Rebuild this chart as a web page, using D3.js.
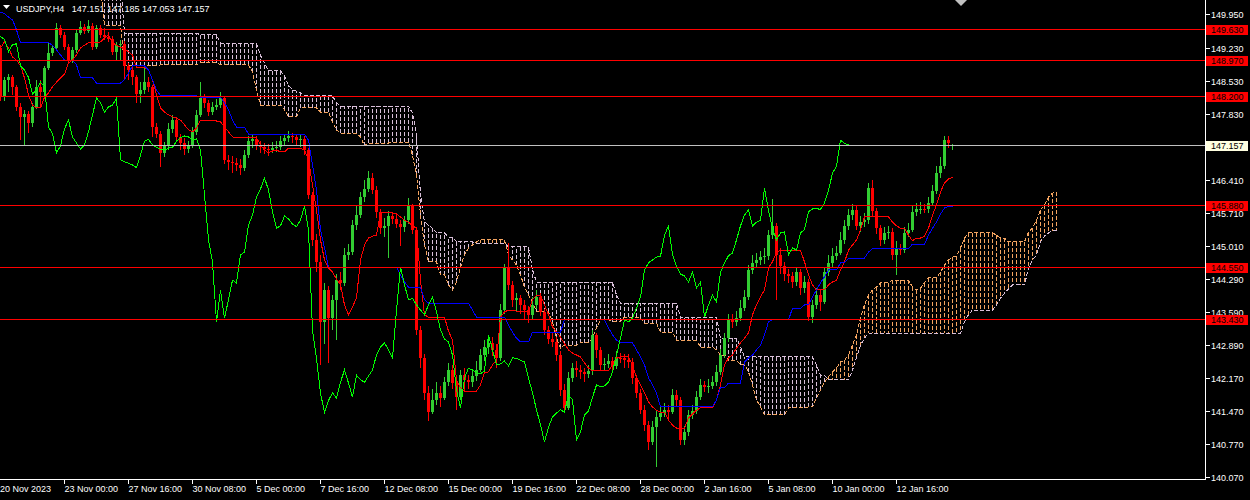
<!DOCTYPE html>
<html><head><meta charset="utf-8">
<script src="https://cdn.jsdelivr.net/npm/d3@7"></script>
<style>html,body{margin:0;padding:0;background:#000;overflow:hidden}svg{display:block}</style>
</head><body><svg id="c" width="1250" height="500"></svg>
<script>
// ---------------- DATA (USDJPY H4) ----------------
const symbolTitle = "USDJPY,H4";
const openP = [
149.23,148.18,148.55,148.60,148.40,147.97,147.76,147.82,147.63,147.97,
148.40,148.29,148.80,149.12,149.23,149.66,149.51,149.25,148.97,149.19,
149.55,149.68,149.59,149.70,149.25,149.66,149.51,149.47,149.42,149.15,
149.30,149.32,148.85,148.76,148.60,148.25,148.33,148.50,148.40,147.54,
147.40,146.99,147.14,147.50,147.69,147.33,147.20,147.07,147.16,147.44,
147.80,148.16,148.06,147.86,147.97,148.01,148.16,146.84,146.80,146.77,
146.73,146.67,146.94,147.24,147.28,147.16,147.11,147.07,147.05,147.09,
147.11,147.24,147.31,147.35,147.33,147.26,147.29,147.05,146.09,145.13,
144.66,143.38,144.06,143.46,143.85,144.27,144.21,144.81,144.87,145.45,
145.66,146.05,146.22,146.45,146.20,145.73,145.38,145.43,145.64,145.58,
145.47,145.41,145.55,145.85,145.34,143.20,142.60,141.85,141.45,141.70,
141.86,141.75,142.09,142.35,142.07,141.77,142.24,142.14,142.09,142.22,
142.35,142.67,142.84,142.93,142.78,142.61,143.63,144.55,144.17,143.85,
143.88,143.74,143.63,143.53,143.74,143.91,143.59,143.21,143.01,142.95,
142.67,141.92,141.54,142.18,142.39,142.35,142.30,142.27,142.33,143.10,
142.78,142.46,142.48,142.54,142.44,142.61,142.60,142.56,142.52,142.18,
141.86,141.50,141.18,140.81,141.13,141.35,141.43,141.50,141.45,141.82,
141.71,140.86,141.03,141.39,141.47,141.77,142.03,141.99,142.01,142.09,
142.31,142.67,143.03,143.42,143.38,143.46,143.67,143.91,144.49,144.64,
144.70,144.76,144.78,145.23,145.43,144.81,144.57,144.40,144.36,144.23,
144.44,144.10,144.23,143.48,143.74,143.95,143.80,144.44,144.64,144.79,
144.85,145.13,145.43,145.66,145.77,145.43,145.51,145.55,146.24,145.75,
145.38,145.13,145.28,145.30,144.81,144.96,144.91,145.28,145.35,145.73,
145.79,145.80,145.78,145.92,146.18,146.56,146.70,147.26,147.151];
const highP = [
149.30,148.62,148.68,148.66,148.45,148.05,147.90,147.88,148.05,148.55,
148.55,148.85,149.34,149.30,149.77,149.73,149.58,149.32,149.25,149.62,
149.80,149.75,149.82,149.76,149.73,149.72,149.65,149.58,149.48,149.36,
149.40,149.38,148.92,148.82,148.66,148.50,148.82,148.62,148.45,147.62,
147.45,147.22,147.62,147.80,147.75,147.40,147.30,147.25,147.55,147.90,
148.50,148.25,148.12,148.08,148.15,148.28,148.20,146.95,146.92,146.88,
146.85,147.05,147.35,147.38,147.35,147.25,147.20,147.18,147.22,147.25,
147.35,147.40,147.45,147.42,147.40,147.38,147.35,147.10,146.15,145.25,
144.80,144.20,144.15,143.95,144.40,144.45,144.95,145.05,145.55,145.85,
146.15,146.40,146.60,146.55,146.28,145.80,145.60,145.75,145.72,145.70,
145.55,145.65,146.02,145.90,145.40,143.30,142.70,142.00,141.95,142.10,
142.00,142.20,142.50,142.45,142.15,142.35,142.40,142.25,142.35,142.55,
142.80,143.00,143.10,143.05,142.90,143.75,144.62,145.06,144.25,144.00,
143.95,143.85,143.72,143.90,144.05,144.00,143.65,143.30,143.15,143.05,
142.75,142.05,142.30,142.50,142.55,142.45,142.40,142.45,143.20,143.15,
142.85,142.60,142.70,142.62,142.75,142.72,142.70,142.70,142.60,142.25,
141.95,141.60,141.25,141.25,141.50,141.60,141.65,141.60,141.95,141.92,
141.78,141.15,141.50,141.60,141.90,142.15,142.12,142.15,142.22,142.45,
142.80,143.15,143.55,143.55,143.60,143.85,144.05,144.60,144.80,144.85,
144.90,144.95,145.35,146.00,145.50,144.95,144.65,144.50,144.45,144.55,
144.50,144.35,144.30,143.85,144.10,144.05,144.55,144.80,144.95,145.00,
145.30,145.55,145.80,145.90,145.85,145.65,145.70,146.35,146.40,145.82,
145.45,145.40,145.42,145.38,145.10,145.05,145.40,145.50,145.85,145.92,
145.95,145.90,146.05,146.30,146.70,146.90,147.35,147.36,147.185];
const lowP = [
148.10,148.10,148.30,148.22,147.88,147.26,147.16,147.41,147.55,147.92,
148.00,148.20,148.75,149.05,149.18,149.45,149.18,148.90,148.92,149.12,
149.50,149.52,149.55,149.18,149.20,149.45,149.40,149.35,149.08,148.95,
148.95,148.55,148.55,148.45,148.05,148.06,148.25,148.30,147.33,147.30,
146.69,146.90,147.05,147.42,147.25,147.05,146.95,146.98,147.10,147.38,
147.75,147.95,147.78,147.80,147.90,147.95,146.75,146.62,146.55,146.60,
146.52,146.60,146.88,147.10,147.05,146.98,146.96,146.92,146.98,147.00,
147.05,147.15,147.22,147.20,147.15,147.12,146.95,146.00,145.00,144.45,
142.45,142.90,142.50,143.20,143.00,144.05,144.15,144.70,144.80,145.35,
145.60,145.95,146.15,146.10,145.60,145.25,145.20,144.75,145.48,145.38,
145.00,145.30,145.48,145.25,143.10,142.40,141.70,141.26,141.40,141.60,
141.55,141.70,142.00,141.95,141.50,141.70,141.90,141.95,141.98,142.12,
142.30,142.55,142.70,142.65,142.40,142.55,143.55,144.05,143.70,143.60,
143.55,143.45,143.35,143.45,143.65,143.50,143.10,142.90,142.85,142.55,
141.80,141.45,141.50,142.10,142.20,142.15,142.10,142.18,142.25,142.60,
142.35,142.35,142.40,142.30,142.38,142.50,142.40,142.40,142.05,141.75,
141.40,141.05,140.65,140.75,140.27,141.25,141.35,141.30,141.40,141.55,
140.75,140.75,140.95,141.30,141.40,141.70,141.88,141.85,141.95,142.00,
142.25,142.60,142.95,143.25,143.30,143.40,143.60,143.85,144.40,144.55,
144.60,144.62,144.70,145.15,143.85,144.40,144.25,144.20,144.10,144.15,
143.95,144.00,143.40,143.35,143.65,143.60,143.75,144.35,144.55,144.70,
144.80,145.05,145.35,145.55,145.35,145.30,145.40,145.48,145.65,145.25,
145.00,145.05,145.15,144.70,144.38,144.80,144.85,145.20,145.30,145.65,
145.68,145.70,145.70,145.85,146.10,146.45,146.65,147.10,147.053];
const closeP = [
148.18,148.55,148.60,148.40,147.97,147.76,147.82,147.63,147.97,148.40,
148.29,148.80,149.12,149.23,149.66,149.51,149.25,148.97,149.19,149.55,
149.68,149.59,149.70,149.25,149.66,149.51,149.47,149.42,149.15,149.30,
149.32,148.85,148.76,148.60,148.25,148.33,148.50,148.40,147.54,147.40,
146.99,147.14,147.50,147.69,147.33,147.20,147.07,147.16,147.44,147.80,
148.16,148.06,147.86,147.97,148.01,148.16,146.84,146.80,146.77,146.73,
146.67,146.94,147.24,147.28,147.16,147.11,147.07,147.05,147.09,147.11,
147.24,147.31,147.35,147.33,147.26,147.29,147.05,146.09,145.13,144.66,
143.38,144.06,143.46,143.85,144.27,144.21,144.81,144.87,145.45,145.66,
146.05,146.22,146.45,146.20,145.73,145.38,145.43,145.64,145.58,145.47,
145.41,145.55,145.85,145.34,143.20,142.60,141.85,141.45,141.70,141.86,
141.75,142.09,142.35,142.07,141.77,142.24,142.14,142.09,142.22,142.35,
142.67,142.84,142.93,142.78,142.61,143.63,144.55,144.17,143.85,143.88,
143.74,143.63,143.53,143.74,143.91,143.59,143.21,143.01,142.95,142.67,
141.92,141.54,142.18,142.39,142.35,142.30,142.27,142.33,143.10,142.78,
142.46,142.48,142.54,142.44,142.61,142.60,142.56,142.52,142.18,141.86,
141.50,141.18,140.81,141.13,141.35,141.43,141.50,141.45,141.82,141.71,
140.86,141.03,141.39,141.47,141.77,142.03,141.99,142.01,142.09,142.31,
142.67,143.03,143.42,143.38,143.46,143.67,143.91,144.49,144.64,144.70,
144.76,144.78,145.23,145.43,144.81,144.57,144.40,144.36,144.23,144.44,
144.10,144.23,143.48,143.74,143.95,143.80,144.44,144.64,144.79,144.85,
145.13,145.43,145.66,145.77,145.43,145.51,145.55,146.24,145.75,145.38,
145.13,145.28,145.30,144.81,144.96,144.91,145.28,145.35,145.73,145.79,
145.80,145.78,145.92,146.18,146.56,146.70,147.26,147.19,147.157];
// Ichimoku: Tenkan-sen, Kijun-sen (one value per bar)
const tenkan = [
149.23,149.36,149.23,149.04,148.97,148.85,148.59,148.23,148.01,147.95,
147.95,148.18,148.27,148.40,148.50,148.59,148.67,148.91,148.97,149.08,
149.23,149.29,149.34,149.34,149.34,149.36,149.44,149.51,149.34,149.29,
149.25,149.21,149.15,149.08,148.82,148.82,148.82,148.76,148.55,148.23,
147.95,147.86,147.80,147.76,147.73,147.69,147.59,147.48,147.44,147.52,
147.69,147.69,147.69,147.69,147.67,147.65,147.54,147.44,147.33,147.31,
147.31,147.31,147.31,147.31,147.31,147.16,147.05,146.99,147.03,147.05,
147.01,147.01,147.09,147.09,147.09,147.09,147.05,146.84,146.30,145.77,
145.13,144.70,144.53,144.44,144.29,144.17,143.74,143.53,143.70,143.89,
144.70,145.02,145.17,145.21,145.23,145.71,145.71,145.71,145.71,145.68,
145.62,145.55,145.51,145.43,145.38,144.27,143.53,143.48,143.48,143.48,
143.48,143.48,143.18,142.99,142.14,141.97,141.90,141.90,141.90,141.90,
142.03,142.29,142.31,142.46,142.56,143.48,143.59,143.63,143.63,143.61,
143.61,143.61,143.59,143.85,143.95,143.95,143.74,143.53,143.27,143.16,
143.05,142.91,142.78,142.71,142.67,142.63,142.50,142.39,142.33,142.33,
142.33,142.33,142.33,142.46,142.61,142.63,142.63,142.63,142.46,142.18,
142.03,141.86,141.67,141.56,141.49,141.45,141.45,141.28,141.17,141.11,
141.11,141.11,141.32,141.41,141.49,141.54,141.54,141.54,141.54,141.71,
142.03,142.46,142.61,142.67,142.82,142.93,143.03,143.14,143.53,143.74,
143.91,144.06,144.53,144.66,144.87,144.91,144.91,144.91,144.91,144.91,
144.91,144.66,144.38,144.17,144.06,144.06,144.06,144.17,144.23,144.27,
144.49,144.66,144.91,145.02,145.13,145.34,145.62,145.62,145.62,145.62,
145.62,145.62,145.62,145.51,145.43,145.38,145.38,145.23,145.11,145.17,
145.17,145.21,145.38,145.66,145.88,146.15,146.35,146.43,146.47];
const kijun = [
150.00,149.96,149.89,149.83,149.62,149.34,149.34,149.34,149.34,149.34,
149.34,149.34,149.34,149.29,149.19,149.08,148.97,148.97,148.97,148.87,
148.59,148.59,148.59,148.59,148.48,148.48,148.48,148.48,148.48,148.48,
148.48,148.55,148.70,148.85,148.85,148.85,148.85,148.76,148.55,148.33,
148.21,148.21,148.21,148.21,148.21,148.21,148.21,148.21,148.21,148.21,
148.18,148.18,148.18,148.18,148.18,148.18,148.06,147.91,147.69,147.54,
147.54,147.54,147.39,147.39,147.39,147.39,147.39,147.39,147.39,147.39,
147.39,147.39,147.39,147.39,147.39,147.39,147.39,147.26,146.73,146.20,
145.34,144.96,144.55,144.55,144.55,144.55,144.55,144.55,144.55,144.55,
144.55,144.55,144.55,144.55,144.55,144.55,144.55,144.55,144.55,144.55,
144.38,144.23,144.12,144.12,144.12,144.12,143.85,143.78,143.78,143.78,
143.78,143.78,143.78,143.78,143.78,143.78,143.78,143.78,143.63,143.48,
143.48,143.48,143.48,143.48,143.48,143.48,143.48,143.31,143.16,143.03,
142.95,142.95,142.95,143.16,143.16,143.16,143.16,143.16,143.16,143.16,
143.16,143.42,143.42,143.42,143.42,143.42,143.42,143.42,143.42,143.42,
143.42,143.42,143.25,143.10,142.99,142.93,142.93,142.93,142.93,142.78,
142.63,142.46,142.18,142.03,141.86,141.56,141.56,141.56,141.56,141.56,
141.56,141.56,141.56,141.56,141.56,141.56,141.56,141.56,141.56,141.71,
141.97,141.97,142.07,142.07,142.07,142.07,142.52,142.61,142.67,142.78,
142.88,143.10,143.38,143.42,143.42,143.42,143.42,143.42,143.67,143.67,
143.67,143.74,143.74,143.91,144.06,144.21,144.34,144.49,144.49,144.49,
144.64,144.64,144.74,144.74,144.74,144.74,144.74,144.87,144.94,144.94,
144.94,144.94,144.94,144.94,144.94,144.94,144.94,144.94,145.04,145.04,
145.04,145.04,145.23,145.38,145.51,145.68,145.81,145.85,145.85];
// Senkou spans, already displaced 26 bars forward (265 values)
const spanA = [
150.50,150.50,150.50,150.50,150.50,150.50,150.50,150.50,150.50,150.50,
150.50,150.50,150.50,150.50,150.50,150.50,150.50,150.50,150.50,150.50,
150.50,150.50,150.50,150.50,150.50,150.50,149.72,149.72,149.72,149.72,
149.72,148.85,148.85,148.85,148.85,148.85,148.85,148.85,148.85,148.85,
148.87,148.87,148.87,148.87,148.87,148.87,148.87,148.87,148.87,148.87,
148.91,148.91,148.91,148.91,148.91,148.87,148.87,148.87,148.87,148.87,
148.87,148.87,148.87,148.72,148.33,148.01,148.01,148.01,148.01,148.01,
148.01,147.91,147.76,147.76,147.76,147.95,147.95,147.95,147.95,147.95,
147.86,147.86,147.86,147.65,147.48,147.41,147.41,147.41,147.41,147.41,
147.33,147.14,147.20,147.20,147.20,147.20,147.20,147.20,147.22,147.22,
147.22,147.22,147.22,146.94,146.52,145.66,145.02,144.66,144.66,144.66,
144.38,144.38,144.17,144.06,144.23,144.55,144.81,144.96,145.02,145.09,
145.13,145.13,145.13,145.13,145.13,145.13,145.13,144.81,144.70,144.59,
144.38,144.12,143.95,143.80,143.59,143.59,143.59,143.59,143.38,143.03,
142.82,142.88,142.88,142.88,142.88,142.93,142.93,142.93,143.03,143.25,
143.42,143.42,143.42,143.38,143.38,143.38,143.48,143.48,143.48,143.48,
143.46,143.35,143.35,143.35,143.35,143.16,143.16,143.16,143.16,142.99,
142.99,142.99,142.99,142.99,142.99,142.84,142.84,142.84,142.84,142.78,
142.67,142.67,142.56,142.56,142.56,142.46,142.46,142.31,142.03,141.71,
141.56,141.39,141.39,141.39,141.39,141.39,141.39,141.54,141.54,141.54,
141.54,141.54,141.56,141.56,141.75,141.92,142.09,142.20,142.31,142.39,
142.52,142.56,142.67,142.88,143.10,143.46,143.74,143.95,144.06,144.12,
144.21,144.21,144.21,144.27,144.27,144.27,144.27,144.27,144.12,144.06,
144.10,144.21,144.32,144.32,144.32,144.44,144.59,144.70,144.76,144.79,
144.96,145.17,145.28,145.28,145.28,145.28,145.28,145.28,145.28,145.23,
145.17,145.17,145.09,145.09,145.09,145.09,145.09,145.30,145.38,145.55,
145.77,145.88,146.05,146.13,146.15];
const spanB = [
150.60,150.60,150.60,150.60,150.60,150.60,150.60,150.60,150.60,150.60,
150.60,150.60,150.60,150.60,150.60,150.60,150.60,150.60,150.60,150.60,
150.60,150.60,150.60,150.60,150.60,150.60,150.60,150.60,150.60,150.60,
150.60,149.55,149.55,149.55,149.55,149.55,149.55,149.55,149.55,149.55,
149.55,149.55,149.55,149.55,149.55,149.55,149.55,149.55,149.55,149.55,
149.51,149.51,149.51,149.51,149.51,149.34,149.32,149.32,149.32,149.32,
149.32,149.32,149.32,149.32,149.32,149.08,148.91,148.74,148.74,148.74,
148.74,148.63,148.44,148.33,148.31,148.27,148.21,148.21,148.21,148.21,
148.21,148.21,148.21,148.21,148.06,147.99,147.99,147.99,147.99,147.99,
147.99,147.99,147.99,147.99,147.99,147.99,147.99,147.99,147.99,147.99,
147.99,147.99,147.99,147.84,147.37,146.09,145.51,145.45,145.38,145.28,
145.28,145.28,145.19,145.19,145.09,145.09,145.09,145.09,145.09,145.06,
145.06,145.06,145.06,145.06,145.06,145.06,145.06,144.98,144.98,144.98,
144.98,144.98,144.98,144.49,144.23,144.23,144.23,144.23,144.23,144.23,
144.23,144.23,144.23,144.23,144.23,144.23,144.23,144.23,144.23,144.23,
144.23,144.23,144.23,144.23,143.95,143.78,143.78,143.78,143.78,143.78,
143.78,143.78,143.78,143.78,143.78,143.78,143.78,143.78,143.78,143.78,
143.48,143.48,143.48,143.48,143.48,143.48,143.48,143.48,143.48,143.48,
143.03,143.03,143.03,143.03,143.03,142.84,142.63,142.63,142.63,142.63,
142.63,142.63,142.63,142.63,142.63,142.63,142.63,142.63,142.63,142.63,
142.63,142.63,142.63,142.63,142.46,142.24,142.24,142.14,142.14,142.14,
142.14,142.14,142.14,142.35,142.61,142.88,143.03,143.14,143.14,143.14,
143.14,143.14,143.14,143.14,143.14,143.14,143.14,143.14,143.14,143.14,
143.14,143.14,143.14,143.14,143.14,143.14,143.14,143.14,143.14,143.14,
143.14,143.38,143.53,143.63,143.63,143.63,143.63,143.63,143.63,143.74,
143.89,143.99,144.08,144.17,144.17,144.17,144.17,144.53,144.70,144.81,
145.09,145.21,145.28,145.32,145.34];
const chikouShift = 26;
const timeLabels = ["20 Nov 2023","23 Nov 00:00","27 Nov 16:00","30 Nov 08:00","5 Dec 00:00","7 Dec 16:00","12 Dec 08:00","15 Dec 00:00","19 Dec 16:00","22 Dec 08:00","28 Dec 00:00","2 Jan 16:00","5 Jan 08:00","10 Jan 00:00","12 Jan 16:00"];
const timeLabelBars = [0,16,32,48,64,80,96,112,128,144,160,176,192,208,224];
const priceTicks = [149.95,149.23,148.53,147.83,146.41,145.71,145.01,144.29,143.59,142.89,142.17,141.47,140.77,140.07];
const levelLines = [149.63,148.97,148.20,145.88,144.55,143.43];
const bidPrice = 147.157;

// ---------------- DRAWING ----------------
const plotRight = 1205, plotBottom = 479;
const FONT = "'Liberation Sans', Arial, sans-serif";
const svg = d3.select('#c');
svg.append('rect').attr('width',1250).attr('height',500).attr('fill','#000');
const x = d3.scaleLinear().domain([0, 300]).range([0.5, 1200.5]);
const y = d3.scaleLinear().domain([140.07, 149.95]).range([476.7, 14.3]);

svg.append('clipPath').attr('id','plot').append('rect')
  .attr('x',0).attr('y',0).attr('width',plotRight).attr('height',plotBottom);

// title
const title = svg.append('g');
title.append('path').attr('d','M3,5 L10,5 L6.5,9 Z').attr('fill','#fff');
const last = closeP.length-1;
title.append('text').attr('x',16).attr('y',12).attr('fill','#fff')
  .attr('font-family',FONT).attr('font-size','9px').style('white-space','pre')
  .text(symbolTitle + '   ' + [openP[last], highP[last], lowP[last], closeP[last]].map(v=>v.toFixed(3)).join(' '));

const plot = svg.append('g').attr('clip-path','url(#plot)').attr('shape-rendering','crispEdges');

// Kumo histogram
const SANDY = '#F4A460', THISTLE = '#D8BFD8';
plot.append('g').selectAll('line').data(spanA).join('line')
  .attr('x1',(d,i)=>x(i)).attr('x2',(d,i)=>x(i))
  .attr('y1',d=>y(d)).attr('y2',(d,i)=>y(spanB[i]))
  .attr('stroke',(d,i)=> d > spanB[i] ? SANDY : THISTLE)
  .attr('stroke-width',1).attr('stroke-dasharray','4,2');
const lineGen = d3.line().x(d=>d[0]).y(d=>d[1]);
plot.append('path').attr('d', lineGen(spanA.map((v,i)=>[x(i),y(v)])))
  .attr('fill','none').attr('stroke',SANDY).attr('stroke-dasharray','4,2');
plot.append('path').attr('d', lineGen(spanB.map((v,i)=>[x(i),y(v)])))
  .attr('fill','none').attr('stroke',THISTLE).attr('stroke-dasharray','4,2');

// candles
const BULL = '#32CD32', BEAR = '#FF0000';
const cg = plot.append('g');
closeP.forEach((c,i)=>{
  const o = openP[i], col = c >= o ? BULL : BEAR;
  cg.append('rect').attr('x',x(i)-0.5).attr('width',1)
    .attr('y',y(highP[i])).attr('height',Math.max(1,y(lowP[i])-y(highP[i]))).attr('fill',col);
  const top = y(Math.max(o,c)), bot = y(Math.min(o,c));
  cg.append('rect').attr('x',x(i)-1.5).attr('width',3)
    .attr('y',top).attr('height',Math.max(1,bot-top)).attr('fill',col);
});

// Tenkan / Kijun / Chikou
plot.append('path').attr('d', lineGen(tenkan.map((v,i)=>[x(i),y(v)])))
  .attr('fill','none').attr('stroke','#FF0000');
plot.append('path').attr('d', lineGen(kijun.map((v,i)=>[x(i),y(v)])))
  .attr('fill','none').attr('stroke','#0000FF');
plot.append('path').attr('d', lineGen(closeP.map((v,i)=>[x(i-chikouShift),y(v)])))
  .attr('fill','none').attr('stroke','#00FF00');

// horizontal levels
levelLines.forEach(p=>{
  const yy = Math.round(y(p))+0.5;
  plot.append('line').attr('x1',0).attr('x2',plotRight).attr('y1',yy).attr('y2',yy).attr('stroke','#FF0000');
});
{
  const yy = Math.round(y(bidPrice))+0.5;
  plot.append('line').attr('x1',0).attr('x2',plotRight).attr('y1',yy).attr('y2',yy).attr('stroke','#C0C0C0');
}

// chart-shift marker
svg.append('path').attr('d','M955,0 L967,0 L961,6 Z').attr('fill','#C0C0C0');

// axes
const ax = svg.append('g').attr('shape-rendering','crispEdges');
ax.append('line').attr('x1',plotRight+0.5).attr('x2',plotRight+0.5).attr('y1',0).attr('y2',plotBottom+1).attr('stroke','#fff');
ax.append('line').attr('x1',0).attr('x2',plotRight+1).attr('y1',plotBottom+0.5).attr('y2',plotBottom+0.5).attr('stroke','#fff');
priceTicks.forEach(p=>{
  const yy = Math.round(y(p))+0.5;
  ax.append('line').attr('x1',plotRight).attr('x2',plotRight+5).attr('y1',yy).attr('y2',yy).attr('stroke','#fff');
  ax.append('text').attr('x',plotRight+6).attr('y',yy+3.5).attr('fill','#fff')
    .attr('font-family',FONT).attr('font-size','9px').text(p.toFixed(3));
});
timeLabelBars.forEach((b,k)=>{
  const xx = Math.round(x(b)-0.5)+0.5;
  if (k>0) ax.append('line').attr('x1',xx).attr('x2',xx).attr('y1',plotBottom).attr('y2',plotBottom+5).attr('stroke','#fff');
  ax.append('text').attr('x',k===0?0:xx).attr('y',492).attr('fill','#fff')
    .attr('font-family',FONT).attr('font-size','9px').text(timeLabels[k]);
});
function tag(p, fill){
  const yy = Math.round(y(p));
  ax.append('rect').attr('x',plotRight+1).attr('y',yy-4.5).attr('width',42).attr('height',10).attr('fill',fill);
  ax.append('text').attr('x',plotRight+6).attr('y',yy+3.5).attr('fill','#000')
    .attr('font-family',FONT).attr('font-size','9px').text(p.toFixed(3));
}
levelLines.forEach(p=>tag(p,'#FF0000'));
tag(bidPrice,'#FFFFE0');
</script></body></html>
